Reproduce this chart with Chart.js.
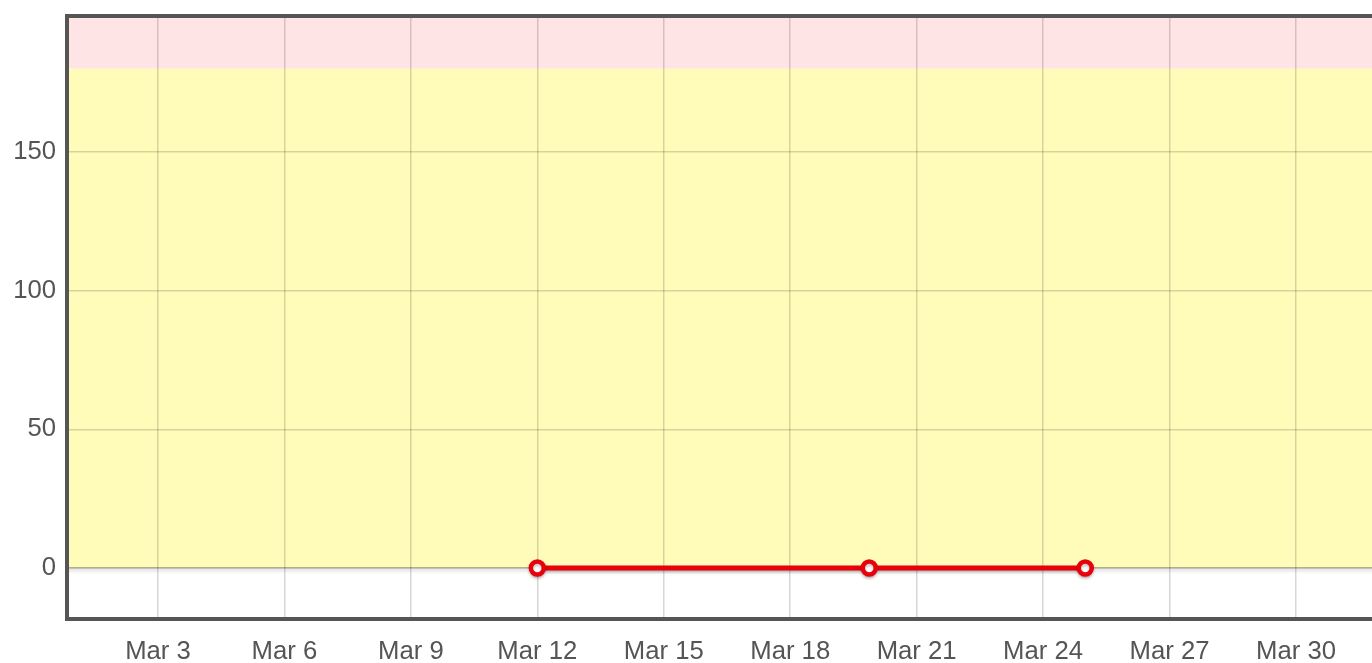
<!DOCTYPE html>
<html>
<head>
<meta charset="utf-8">
<script src="https://cdn.jsdelivr.net/npm/chart.js@4/dist/chart.umd.min.js"></script>
<style>
html,body{margin:0;padding:0;background:#fff;overflow:hidden;width:1372px;height:663px;}
canvas{display:block;}
</style>
</head>
<body>
<canvas id="c" width="1420" height="663"></canvas>
<script>
// Data (x = day of March, fractional)
const pointDays = [12, 19.875, 25];
const pointValues = [0, 0, 0];
const xTickDays = [3, 6, 9, 12, 15, 18, 21, 24, 27, 30];
const xTickLabels = ['Mar 3','Mar 6','Mar 9','Mar 12','Mar 15','Mar 18','Mar 21','Mar 24','Mar 27','Mar 30'];
const yTickValues = [0, 50, 100, 150];
const bandWarn = 180; // pink above this
const bandOkLow = 0;   // yellow between 0 and 180

const bands = {
  id: 'bands',
  beforeDraw(chart) {
    const {ctx, chartArea: a, scales: {y}} = chart;
    ctx.save();
    const yTop = a.top, yWarn = y.getPixelForValue(bandWarn), yZero = y.getPixelForValue(bandOkLow);
    ctx.fillStyle = '#fee4e4';
    ctx.fillRect(a.left, yTop, a.right - a.left, yWarn - yTop);
    ctx.fillStyle = '#fffcb9';
    ctx.fillRect(a.left, yWarn, a.right - a.left, yZero - yWarn);
    const g = ctx.createLinearGradient(0, yZero, 0, yZero + 6);
    g.addColorStop(0, 'rgba(0,0,0,0.12)');
    g.addColorStop(1, 'rgba(0,0,0,0)');
    ctx.fillStyle = g;
    ctx.fillRect(a.left, yZero, a.right - a.left, 6);
    ctx.restore();
  },
  beforeDatasetDraw(chart) {
    const ctx = chart.ctx;
    ctx.save();
    ctx.shadowColor = 'rgba(0,0,0,0.25)';
    ctx.shadowOffsetY = 2;
    ctx.shadowBlur = 3;
  },
  afterDatasetDraw(chart) {
    chart.ctx.restore();
  },
  afterDraw(chart) {
    const {ctx, chartArea: a} = chart;
    ctx.save();
    ctx.strokeStyle = '#555';
    ctx.lineWidth = 4;
    ctx.strokeRect(a.left, a.top, a.right - a.left, a.bottom - a.top);
    ctx.restore();
  }
};

const labelMap = {};
xTickDays.forEach((d, i) => labelMap[d] = xTickLabels[i]);

new Chart(document.getElementById('c'), {
  type: 'line',
  data: {
    datasets: [{
      data: pointDays.map((d, i) => ({x: d, y: pointValues[i]})),
      borderColor: '#e8000b',
      borderWidth: 5,
      pointRadius: 6.5,
      pointBorderWidth: 4.5,
      pointBackgroundColor: '#ffffff',
      pointBorderColor: '#e8000b',
      tension: 0
    }]
  },
  plugins: [bands],
  options: {
    responsive: false,
    animation: false,
    layout: {padding: {left: 0, right: 20, top: 16, bottom: 0}},
    plugins: {legend: {display: false}, tooltip: {enabled: false}},
    scales: {
      x: {
        type: 'linear',
        min: 0.841,
        max: 32.468,
        afterBuildTicks: s => { s.ticks = xTickDays.map(v => ({value: v})); },
        afterFit: s => { s.height = 44; s.paddingLeft = 0; s.paddingRight = 0; },
        ticks: {
          autoSkip: false,
          maxRotation: 0,
          padding: 17,
          color: '#555',
          font: {family: '"Liberation Sans", Arial, sans-serif', size: 25.7},
          callback: v => labelMap[v] || ''
        },
        grid: {color: 'rgba(0,0,0,0.16)', lineWidth: 1.5, drawTicks: false},
        border: {display: false}
      },
      y: {
        type: 'linear',
        min: -18.4,
        max: 199,
        afterBuildTicks: s => { s.ticks = yTickValues.map(v => ({value: v})); },
        afterFit: s => { s.width = 67; s.paddingTop = 0; s.paddingBottom = 0; },
        ticks: {
          padding: 11,
          color: '#555',
          font: {family: '"Liberation Sans", Arial, sans-serif', size: 25.7}
        },
        grid: {
          color: c => (c.tick && c.tick.value === 0) ? 'rgba(0,0,0,0.3)' : 'rgba(0,0,0,0.16)',
          lineWidth: 1.5,
          drawTicks: false
        },
        border: {display: false}
      }
    }
  }
});
</script>
</body>
</html>
